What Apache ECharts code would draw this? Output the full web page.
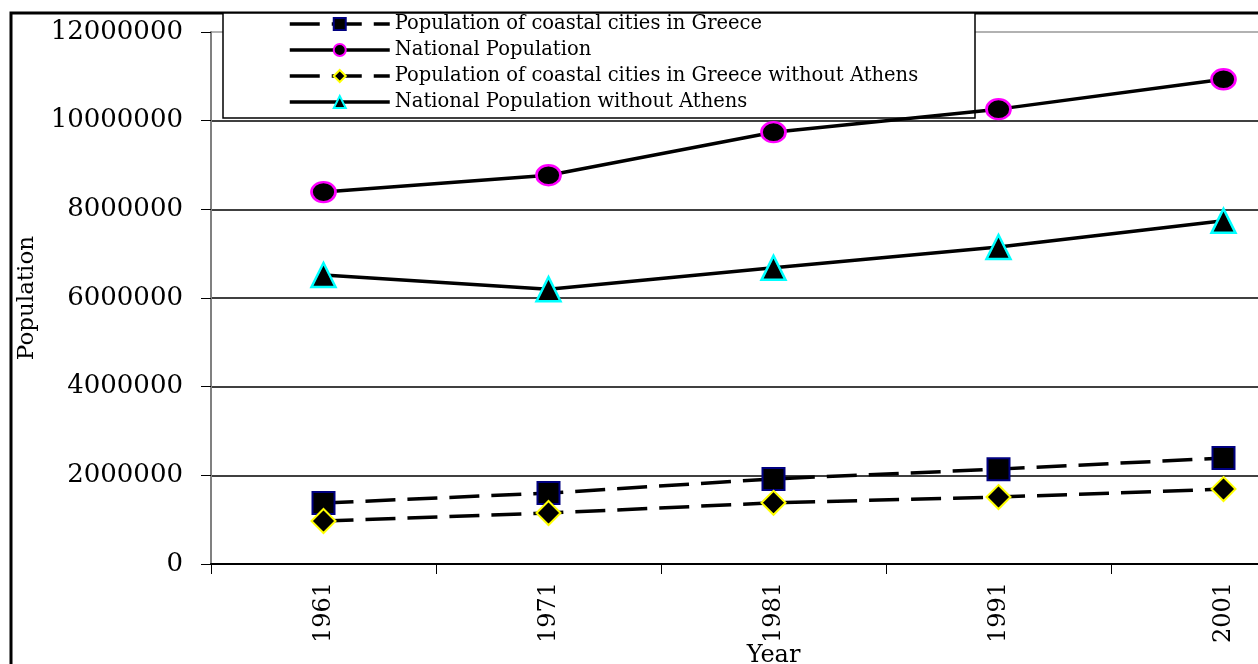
<!DOCTYPE html>
<html>
<head>
<meta charset="utf-8">
<script src="https://cdn.jsdelivr.net/npm/echarts@6/dist/echarts.min.js"></script>
<style>html,body{margin:0;padding:0;background:#fff;}#c{width:1258px;height:664px;}</style>
</head>
<body>
<div id="c"></div>
<script>
const years = ['1961', '1971', '1981', '1991', '2001'];
const coastal = [1376000, 1600000, 1920000, 2140000, 2390000];
const national = [8389000, 8769000, 9740000, 10260000, 10934000];
const coastalNoAthens = [970000, 1150000, 1380000, 1510000, 1690000];
const nationalNoAthens = [6520000, 6200000, 6680000, 7150000, 7740000];
const yTicks = [0, 2000000, 4000000, 6000000, 8000000, 10000000, 12000000];

const FONT = 'DejaVu Serif';
const chart = echarts.init(document.getElementById('c'));
chart.setOption({
  animation: false,
  backgroundColor: '#fff',
  grid: { left: 211, top: 32, right: -78, bottom: 100, containLabel: false, outerBoundsMode: 'none' },
  graphic: [
    { type: 'rect', z: 1, shape: { x: 11, y: 13, width: 1320, height: 700 },
      style: { fill: 'none', stroke: '#000', lineWidth: 3 } },
    { type: 'rect', z: 1, shape: { x: 223, y: 13, width: 752, height: 105 },
      style: { fill: '#fff', stroke: '#000', lineWidth: 1.5 } }
  ],
  legend: {
    orient: 'vertical', left: 288, top: 14, itemWidth: 100, itemHeight: 15, itemGap: 6,
    padding: 0,
    lineStyle: { width: 3.5 },
    textStyle: { fontFamily: FONT, fontSize: 19.5, color: '#000', lineHeight: 17 },
    data: ['Population of coastal cities in Greece', 'National Population',
           'Population of coastal cities in Greece without Athens', 'National Population without Athens']
  },
  xAxis: {
    type: 'category', data: years, boundaryGap: true,
    name: 'Year', nameLocation: 'middle', nameGap: 80, nameMoveOverlap: false,
    nameTextStyle: { fontFamily: FONT, fontSize: 24, color: '#000' },
    axisLine: { lineStyle: { color: '#000', width: 2 } },
    axisTick: { show: true, alignWithLabel: false, length: 10, lineStyle: { color: '#000', width: 1 } },
    axisLabel: { rotate: 90, margin: 18, fontFamily: FONT, fontSize: 24, color: '#000' },
    splitLine: { show: false }
  },
  yAxis: {
    type: 'value', min: 0, max: 12000000, interval: 2000000,
    name: 'Population', nameLocation: 'middle', nameGap: 172, nameMoveOverlap: false,
    nameTextStyle: { fontFamily: FONT, fontSize: 23, color: '#000' },
    axisLine: { show: true, lineStyle: { color: '#808080', width: 2 } },
    axisTick: { show: true, length: 10, lineStyle: { color: '#000', width: 1 } },
    axisLabel: { margin: 28, fontFamily: FONT, fontSize: 26, color: '#000',
      formatter: v => yTicks.includes(v) ? String(v) : '' },
    splitLine: { show: true, lineStyle: { color: ['#000', '#000', '#000', '#000', '#000', '#000', '#999'], width: 1.5 } }
  },
  series: [
    { name: 'Population of coastal cities in Greece', type: 'line', data: coastal,
      symbol: 'rect', symbolSize: 22, color: '#000',
      itemStyle: { color: '#000', borderColor: '#000080', borderWidth: 2 },
      lineStyle: { color: '#000', width: 3.5, type: [30, 12] } },
    { name: 'National Population', type: 'line', data: national,
      symbol: 'circle', symbolSize: [24, 20], color: '#000',
      itemStyle: { color: '#000', borderColor: '#ff00ff', borderWidth: 2.5 },
      lineStyle: { color: '#000', width: 3.5 } },
    { name: 'Population of coastal cities in Greece without Athens', type: 'line', data: coastalNoAthens,
      symbol: 'diamond', symbolSize: 24, color: '#000',
      itemStyle: { color: '#000', borderColor: '#ffff00', borderWidth: 2 },
      lineStyle: { color: '#000', width: 3.5, type: [30, 12] } },
    { name: 'National Population without Athens', type: 'line', data: nationalNoAthens,
      symbol: 'triangle', symbolSize: 24, color: '#000',
      itemStyle: { color: '#000', borderColor: '#00ffff', borderWidth: 2.5 },
      lineStyle: { color: '#000', width: 3.5 } }
  ]
});
</script>
</body>
</html>
